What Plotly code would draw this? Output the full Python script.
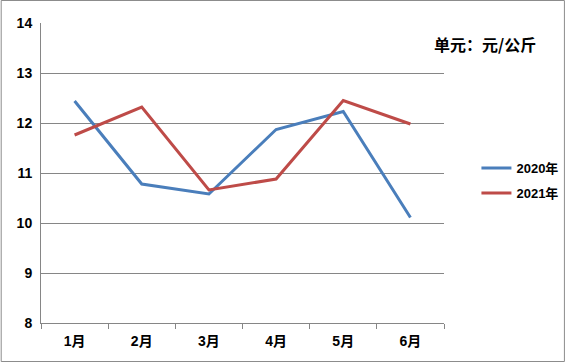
import plotly.graph_objects as go

months = ["1月", "2月", "3月", "4月", "5月", "6月"]
y2020 = [12.44, 10.78, 10.58, 11.87, 12.23, 10.11]
y2021 = [11.76, 12.32, 10.66, 10.88, 12.45, 11.98]
series_names = ["2020年", "2021年"]
unit_text = "单元：元/公斤"

W, H = 575, 363
L, R, T, B = 41, 124, 23, 40
pw, ph = W - L - R, H - T - B

FONT = "Liberation Sans, Arial, Noto Sans CJK SC, sans-serif"
GRID = "#868686"

fig = go.Figure()
fig.add_trace(go.Scatter(x=months, y=y2020, mode="lines", name=series_names[0],
                         line=dict(color="#4A7EBB", width=3), legend="legend"))
fig.add_trace(go.Scatter(x=months, y=y2021, mode="lines", name=series_names[1],
                         line=dict(color="#BE4B48", width=3), legend="legend2"))

legend_common = dict(font=dict(family=FONT, size=13, color="black", weight="bold"),
                     bgcolor="rgba(0,0,0,0)", xanchor="left", yanchor="middle",
                     itemwidth=30, borderwidth=0)
fig.update_layout(
    width=W, height=H,
    margin=dict(l=L, r=R, t=T, b=B),
    paper_bgcolor="white", plot_bgcolor="white",
    font=dict(family=FONT, color="black"),
    legend=dict(x=(484 - L) / pw, y=1 - (168 - T) / ph, **legend_common),
    legend2=dict(x=(484 - L) / pw, y=1 - (193 - T) / ph, **legend_common),
    showlegend=True,
    xaxis=dict(type="category", range=[-0.5, 5.5], showline=True, linecolor=GRID,
               linewidth=1, ticks="outside", tickson="boundaries", ticklen=5,
               tickcolor=GRID, showgrid=False, zeroline=False,
               tickfont=dict(family=FONT, size=14, color="black", weight="bold"),
               ticklabelstandoff=5),
    yaxis=dict(range=[8, 14], dtick=1, showline=True, linecolor=GRID, linewidth=1,
               showgrid=True, gridcolor=GRID, gridwidth=1, zeroline=False,
               ticks="", tickfont=dict(family=FONT, size=14, color="black", weight="bold"),
               ticklabelstandoff=5),
)

fig.add_annotation(text=unit_text, xref="paper", yref="paper",
                   x=(439 - L) / pw, y=1 - (44 - T) / ph, xanchor="left", yanchor="middle",
                   showarrow=False,
                   font=dict(family="Noto Sans CJK SC", size=16, color="black", weight="bold"))

fig.add_shape(type="rect", xref="paper", yref="paper",
              x0=(0.5 - L) / pw, x1=(W - 1.5 - L) / pw,
              y0=1 - (H - 1.5 - T) / ph, y1=1 - (0.5 - T) / ph,
              line=dict(color="#8C8C8C", width=1), fillcolor="rgba(0,0,0,0)", layer="below")

fig.write_html("out.html")
